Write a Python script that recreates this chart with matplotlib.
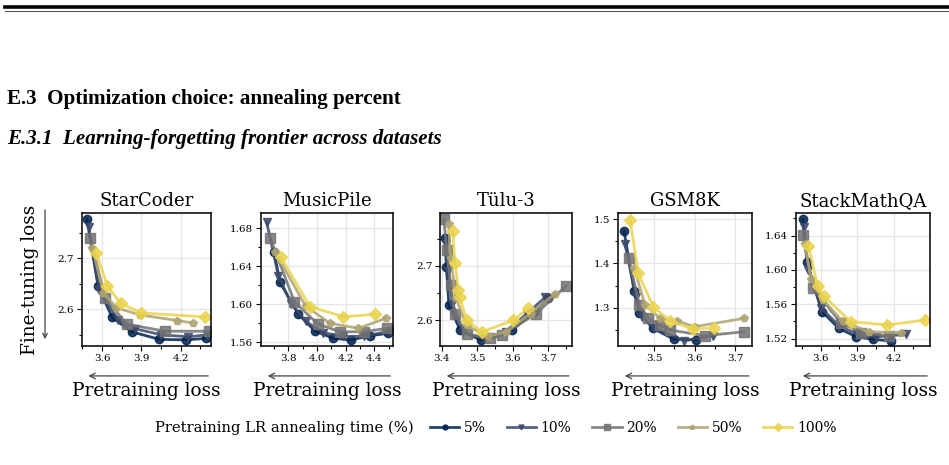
import matplotlib.pyplot as plt
import matplotlib as mpl
from matplotlib.lines import Line2D
from matplotlib.ticker import MultipleLocator

plt.rcParams['font.family'] = ['DejaVu Serif']

W, H = 949, 465

datasets = ["StarCoder", "MusicPile", "Tülu-3", "GSM8K", "StackMathQA"]
anneal_labels = ["5%", "10%", "20%", "50%", "100%"]
markers = ["o", "v", "s", "p", "D"]

# pretraining loss (x) and fine-tuning loss (y), one list per annealing percent
starcoder_pt = [
    [3.485, 3.569, 3.677, 3.825, 4.036, 4.24, 4.393],
    [3.498, 3.58, 3.72, 3.85, 4.05, 4.258, 4.40],
    [3.511, 3.623, 3.787, 4.08, 4.411],
    [3.527, 3.61, 3.71, 3.888, 4.174, 4.292],
    [3.557, 3.641, 3.741, 3.896, 4.386],
]
starcoder_ft = [
    [2.777, 2.646, 2.584, 2.556, 2.541, 2.540, 2.543],
    [2.762, 2.638, 2.579, 2.562, 2.550, 2.546, 2.550],
    [2.739, 2.623, 2.571, 2.557, 2.557],
    [2.721, 2.632, 2.603, 2.589, 2.578, 2.573],
    [2.710, 2.646, 2.612, 2.593, 2.585],
]

musicpile_pt = [
    [3.70, 3.742, 3.870, 3.986, 4.114, 4.238, 4.370, 4.498],
    [3.649, 3.73, 3.82, 3.92, 4.04, 4.18, 4.33, 4.52],
    [3.672, 3.842, 4.005, 4.161, 4.330, 4.487],
    [3.707, 3.92, 4.091, 4.289, 4.480],
    [3.749, 3.951, 4.184, 4.405],
]
musicpile_ft = [
    [1.655, 1.6228, 1.5892, 1.5716, 1.5639, 1.5621, 1.5666, 1.5692],
    [1.686, 1.630, 1.600, 1.582, 1.570, 1.566, 1.566, 1.572],
    [1.670, 1.6024, 1.579, 1.5708, 1.5708, 1.5744],
    [1.655, 1.598, 1.5797, 1.5744, 1.5849],
    [1.6492, 1.5972, 1.5866, 1.5892],
]

tulu_pt = [
    [3.409, 3.413, 3.42, 3.452, 3.51, 3.597, 3.66, 3.70],
    [3.412, 3.418, 3.43, 3.46, 3.52, 3.58, 3.64, 3.691],
    [3.406, 3.414, 3.425, 3.437, 3.470, 3.536, 3.569, 3.666, 3.750],
    [3.419, 3.425, 3.44, 3.47, 3.53, 3.58, 3.65, 3.719],
    [3.431, 3.437, 3.447, 3.450, 3.470, 3.513, 3.602, 3.644],
]
tulu_ft = [
    [2.751, 2.698, 2.628, 2.581, 2.563, 2.581, 2.615, 2.640],
    [2.740, 2.690, 2.630, 2.578, 2.565, 2.578, 2.612, 2.642],
    [2.787, 2.730, 2.665, 2.612, 2.574, 2.566, 2.572, 2.612, 2.663],
    [2.778, 2.715, 2.640, 2.590, 2.570, 2.578, 2.612, 2.649],
    [2.765, 2.705, 2.656, 2.643, 2.600, 2.578, 2.600, 2.622],
]

gsm8k_pt = [
    [3.426, 3.451, 3.464, 3.497, 3.548, 3.604],
    [3.428, 3.455, 3.47, 3.50, 3.574, 3.646],
    [3.437, 3.464, 3.486, 3.515, 3.540, 3.626, 3.722],
    [3.451, 3.478, 3.515, 3.556, 3.60, 3.723],
    [3.441, 3.461, 3.498, 3.540, 3.596, 3.648],
]
gsm8k_ft = [
    [1.4729, 1.3375, 1.2871, 1.2533, 1.229, 1.2269],
    [1.445, 1.325, 1.280, 1.255, 1.225, 1.237],
    [1.4127, 1.306, 1.2758, 1.260, 1.2494, 1.2366, 1.2456],
    [1.389, 1.306, 1.276, 1.270, 1.257, 1.276],
    [1.4977, 1.3774, 1.302, 1.270, 1.2517, 1.2547],
]

stackmath_pt = [
    [3.454, 3.487, 3.611, 3.748, 3.886, 4.024, 4.175],
    [3.46, 3.50, 3.60, 3.75, 3.90, 4.05, 4.30],
    [3.454, 3.536, 3.762, 3.93, 4.161],
    [3.47, 3.52, 3.62, 3.78, 3.996, 4.258],
    [3.50, 3.574, 3.624, 3.845, 4.142, 4.45],
]
stackmath_ft = [
    [1.6591, 1.6097, 1.5514, 1.532, 1.5223, 1.5192, 1.5173],
    [1.650, 1.600, 1.556, 1.535, 1.525, 1.522, 1.525],
    [1.6408, 1.5787, 1.5386, 1.527, 1.5231],
    [1.630, 1.590, 1.565, 1.540, 1.528, 1.527],
    [1.628, 1.5813, 1.5697, 1.5398, 1.5359, 1.5417],
]

all_pt = [starcoder_pt, musicpile_pt, tulu_pt, gsm8k_pt, stackmath_pt]
all_ft = [starcoder_ft, musicpile_ft, tulu_ft, gsm8k_ft, stackmath_ft]

# axes limits and tick steps
xlims = [(3.445, 4.43), (3.609, 4.531), (3.395, 3.766), (3.411, 3.741), (3.398, 4.492)]
ylims = [(2.528, 2.789), (1.5558, 1.6958), (2.552, 2.798), (1.2133, 1.5142), (1.5114, 1.6664)]
xsteps = [0.3, 0.2, 0.1, 0.1, 0.3]
ysteps = [0.1, 0.04, 0.1, 0.1, 0.04]

# pixel boxes (left, right) of each panel
ax_lr = [(81.7, 211), (261, 393), (440, 571.7), (618, 751.7), (796, 930)]
ax_top, ax_bot = 213, 346

cmap = mpl.colormaps['cividis']
colors = [cmap(v) for v in [0.0, 0.22, 0.45, 0.7, 0.92]]
msizes = [6, 6, 6.5, 5.5, 6.5]

fig = plt.figure(figsize=(W / 100, H / 100), dpi=100)

# page rules and headings
fig.add_artist(Line2D([5 / W, 1], [1 - 7 / H] * 2, lw=2.6, color='black'))
fig.add_artist(Line2D([5 / W, 1], [1 - 11.5 / H] * 2, lw=0.8, color='#555555'))
fig.text(7 / W, 1 - 99 / H, "E.3  Optimization choice: annealing percent",
         family='Liberation Serif', weight='bold', fontsize=15.2, va='center')
fig.text(7 / W, 1 - 139 / H, "E.3.1  Learning-forgetting frontier across datasets",
         family='Liberation Serif', weight='bold', style='italic', fontsize=15.1, va='center')

handles = []
for i, name in enumerate(datasets):
    l, r = ax_lr[i]
    ax = fig.add_axes([l / W, 1 - ax_bot / H, (r - l) / W, (ax_bot - ax_top) / H])
    for k in range(5):
        h, = ax.plot(all_pt[i][k], all_ft[i][k], marker=markers[k], color=colors[k],
                     lw=2.0, ms=msizes[k], alpha=0.85, label=anneal_labels[k])
        if i == 0:
            handles.append(h)
    ax.set_xlim(*xlims[i])
    ax.set_ylim(*ylims[i])
    ax.xaxis.set_major_locator(MultipleLocator(xsteps[i]))
    ax.xaxis.set_minor_locator(MultipleLocator(xsteps[i] / 2))
    ax.yaxis.set_major_locator(MultipleLocator(ysteps[i]))
    ax.yaxis.set_minor_locator(MultipleLocator(ysteps[i] / 2))
    ax.tick_params(which='major', direction='out', length=3.5, width=0.8, labelsize=7.5, pad=2)
    ax.tick_params(which='minor', direction='out', length=2.5, width=0.8)
    ax.grid(True, which='major', color='#e6e6e6', lw=0.9)
    ax.set_axisbelow(True)
    for s in ax.spines.values():
        s.set_linewidth(1.1)
    ax.set_title(name, fontsize=13, pad=5)
    ax.set_xlabel("Pretraining loss", fontsize=13.3, labelpad=14)
    ax.annotate("", xy=(0.03, -0.225), xytext=(1.0, -0.225), xycoords='axes fraction',
                arrowprops=dict(arrowstyle='->', color='#444444', lw=0.9), annotation_clip=False)

# y label with arrow
fig.text(30 / W, 1 - 280 / H, "Fine-tuning loss", rotation=90, fontsize=13.3,
         ha='center', va='center')
fig.add_artist(mpl.patches.FancyArrowPatch((45 / W, 1 - 207 / H), (45 / W, 1 - 342 / H),
                                           transform=fig.transFigure, arrowstyle='->',
                                           mutation_scale=8, color='#444444', lw=0.9))

# legend
fig.text(414 / W, 1 - 428 / H, "Pretraining LR annealing time (%)", fontsize=10.6,
         ha='right', va='center')
fig.legend(handles, anneal_labels, loc='center left', bbox_to_anchor=(430 / W, 1 - 428 / H),
           ncol=5, frameon=False, fontsize=10, markerscale=0.6, handlelength=2.1,
           handletextpad=0.35, columnspacing=1.5, borderpad=0, borderaxespad=0)

fig.savefig("out.png", dpi=100)
